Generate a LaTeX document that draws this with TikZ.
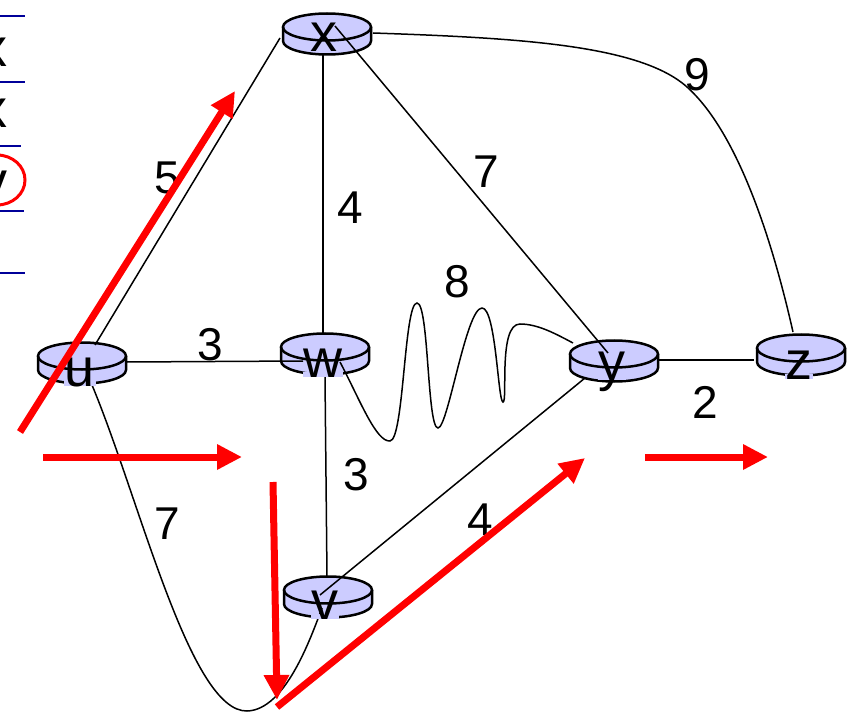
\documentclass[tikz,border=0pt]{standalone}
\usepackage{fontspec}
\setmainfont{Liberation Sans}
\usetikzlibrary{arrows.meta}
\definecolor{routerfill}{RGB}{204,204,255}
\definecolor{tblue}{RGB}{0,0,153}
\definecolor{pred}{RGB}{255,0,0}
\tikzset{
  routerpic/.pic={
    \fill[routerfill] (-44,0) -- (-44,14) arc[start angle=180,end angle=0,x radius=44,y radius=13.5]
      -- (44,0) arc[start angle=0,end angle=-180,x radius=44,y radius=13.5] -- cycle;
    \draw[line width=2.5pt] (0,0) ellipse[x radius=44,y radius=13.5];
    \draw[line width=2.5pt] (-44,0) -- (-44,14) arc[start angle=180,end angle=0,x radius=44,y radius=13.5] -- (44,0);
  },
  rname/.style={font=\fontsize{54}{54}\selectfont, fill=routerfill, inner xsep=0.5pt, inner ysep=0pt,
    text height=1ex, text depth=0pt, anchor=base},
  tname/.style={font=\fontsize{54}{54}\selectfont, inner sep=0pt, anchor=base},
  wlabel/.style={font=\fontsize{46}{46}\selectfont, inner sep=0pt},
  link/.style={line width=1.5pt},
  redarrow/.style={pred, line width=7pt, -{Triangle[length=25pt,width=24pt]}},
  tline/.style={tblue, line width=2pt}
}
\begin{document}
\begin{tikzpicture}[x=1pt,y=-1pt]
\useasboundingbox (0,0) rectangle (852,714);
\clip (0,0) rectangle (852,714);

% routers
\pic at (327,27) {routerpic};
\pic at (82,356) {routerpic};
\pic at (325,347) {routerpic};
\pic at (614,354) {routerpic};
\pic at (801,348) {routerpic};
\pic at (328,590) {routerpic};

% link end points
\coordinate (xu1) at (280,38);   \coordinate (xu2) at (95,345);
\coordinate (xw1) at (323,54);   \coordinate (xw2) at (323,333);
\coordinate (xy1) at (335,26);   \coordinate (xy2) at (608,353);
\coordinate (xz1) at (373,33);   \coordinate (xz2) at (793,332);
\coordinate (uw1) at (127,362);  \coordinate (uw2) at (303,361);
\coordinate (uv1) at (92,385);   \coordinate (uv2) at (322,608);
\coordinate (wv1) at (325,377);  \coordinate (wv2) at (327,577);
\coordinate (wy1) at (340,362);  \coordinate (wy2) at (573,343);
\coordinate (vy1) at (320,595);  \coordinate (vy2) at (585,378);
\coordinate (yz1) at (659,360);  \coordinate (yz2) at (754,360);

% links
\draw[link] (xu1) -- (xu2);
\draw[link] (xw1) -- (xw2);
\draw[link] (xy1) -- (xy2);
\draw[link] (xz1) .. controls (520,38) and (640,45) .. (687,87)
                  .. controls (735,130) and (770,230) .. (xz2);
\draw[link] (uw1) -- (uw2);
\draw[link] (uv1) .. controls (140,500) and (190,712) .. (247,711)
                  .. controls (285,710) and (310,640) .. (uv2);
\draw[link] (wv1) -- (wv2);
\draw[link] (wy1) .. controls (360,400) and (376,442) .. (390,441)
                  .. controls (404,440) and (404,303) .. (417,303)
                  .. controls (429,303) and (427,428) .. (438,428)
                  .. controls (448,428) and (466,308) .. (482,308)
                  .. controls (496,308) and (498,402) .. (503,402)
                  .. controls (508,402) and (498,324) .. (520,324)
                  .. controls (538,324) and (556,334) .. (wy2);
\draw[link] (vy1) -- (vy2);
\draw[link] (yz1) -- (yz2);

% router names
\node[rname] (x) at (324,52) {x};
\node[rname] (u) at (80,386) {u};
\node[rname] (w) at (323,377) {w};
\node[rname] (y) at (612,380) {y};
\node[rname] (z) at (799,379) {z};
\node[rname] (v) at (325,619) {v};

% link weights
\node[wlabel] (l5) at (167,178) {5};
\node[wlabel] (l4a) at (350,208) {4};
\node[wlabel] (l7a) at (486,172) {7};
\node[wlabel] (l9) at (697,75) {9};
\node[wlabel] (l3a) at (210,345) {3};
\node[wlabel] (l8) at (457,282) {8};
\node[wlabel] (l3b) at (356,475) {3};
\node[wlabel] (l7b) at (167,524) {7};
\node[wlabel] (l4b) at (480,520) {4};
\node[wlabel] (l2) at (705,402) {2};

% red arrows
\coordinate (a1s) at (20,432);  \coordinate (a1e) at (235,91);
\coordinate (a2s) at (43,457);  \coordinate (a2e) at (242,457);
\coordinate (a3s) at (273,482); \coordinate (a3e) at (277,700);
\coordinate (a4s) at (277,707); \coordinate (a4e) at (585,458);
\coordinate (a5s) at (645,457); \coordinate (a5e) at (768,457);
\draw[redarrow] (a1s) -- (a1e);
\draw[redarrow] (a2s) -- (a2e);
\draw[redarrow] (a3s) -- (a3e);
\draw[redarrow] (a4s) -- (a4e);
\draw[redarrow] (a5s) -- (a5e);

% table fragment at left edge
\coordinate (t1a) at (0,16);  \coordinate (t1b) at (25,16);
\coordinate (t2a) at (0,82);  \coordinate (t2b) at (25,82);
\coordinate (t3a) at (0,146); \coordinate (t3b) at (21,146);
\coordinate (t4a) at (0,211); \coordinate (t4b) at (24,211);
\coordinate (t5a) at (0,273); \coordinate (t5b) at (25,273);
\draw[tline] (t1a) -- (t1b);
\draw[tline] (t2a) -- (t2b);
\draw[tline] (t3a) -- (t3b);
\draw[tline] (t4a) -- (t4b);
\draw[tline] (t5a) -- (t5b);
\node[tname] (tx1) at (-6,67) {x};
\node[tname] (tx2) at (-6,128) {x};
\node[tname] (tv) at (-6,200) {v};
\draw[pred, line width=3pt] (-3,180) ellipse[x radius=28, y radius=25];
\end{tikzpicture}
\end{document}
